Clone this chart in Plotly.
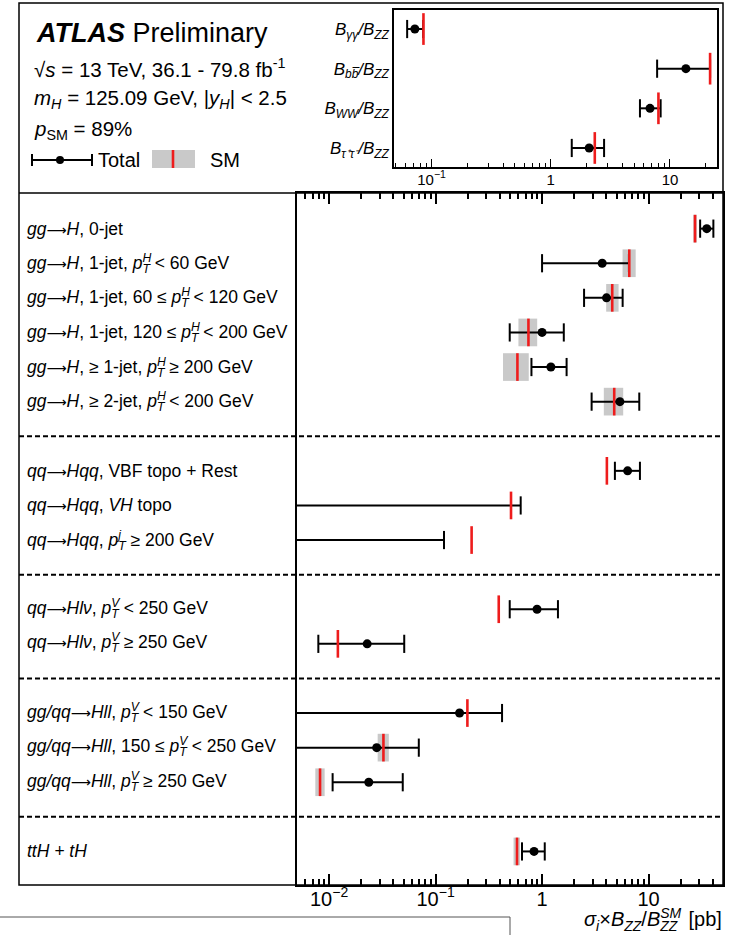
import math
import plotly.graph_objects as go

# ---------------------------------------------------------------- data
ARR = "<span style='font-family:DejaVu Sans;font-size:14px'>⟶</span>"

# advance widths (em) of the italic superscripts, used to stack them over
# the subscript that follows
SUP_W = {"H": 0.722, "V": 0.667, "j": 0.222}


def pt(sup):
    """p_T with the superscript stacked above the subscript T."""
    return (f"<i>p</i><sup><span style='letter-spacing:-{SUP_W[sup]}em'><i>{sup}</i></span></sup>"
            f"<sub><i>T</i></sub>")


# Production-mode cross sections times B(H->ZZ*) [pb]
groups = [
    [
        f"<i>gg</i>{ARR}<i>H</i>, 0-jet",
        f"<i>gg</i>{ARR}<i>H</i>, 1-jet, {pt('H')} < 60 GeV",
        f"<i>gg</i>{ARR}<i>H</i>, 1-jet, 60 ≤ {pt('H')} < 120 GeV",
        f"<i>gg</i>{ARR}<i>H</i>, 1-jet, 120 ≤ {pt('H')} < 200 GeV",
        f"<i>gg</i>{ARR}<i>H</i>, ≥ 1-jet, {pt('H')} ≥ 200 GeV",
        f"<i>gg</i>{ARR}<i>H</i>, ≥ 2-jet, {pt('H')} < 200 GeV",
    ],
    [
        f"<i>qq</i>{ARR}<i>Hqq</i>, VBF topo + Rest",
        f"<i>qq</i>{ARR}<i>Hqq</i>, <i>VH</i> topo",
        f"<i>qq</i>{ARR}<i>Hqq</i>, {pt('j')} ≥ 200 GeV",
    ],
    [
        f"<i>qq</i>{ARR}<i>Hlν</i>, {pt('V')} < 250 GeV",
        f"<i>qq</i>{ARR}<i>Hlν</i>, {pt('V')} ≥ 250 GeV",
    ],
    [
        f"<i>gg/qq</i>{ARR}<i>Hll</i>, {pt('V')} < 150 GeV",
        f"<i>gg/qq</i>{ARR}<i>Hll</i>, 150 ≤ {pt('V')} < 250 GeV",
        f"<i>gg/qq</i>{ARR}<i>Hll</i>, {pt('V')} ≥ 250 GeV",
    ],
    [
        "<i>ttH + tH</i>",
    ],
]

# measured value and total-uncertainty interval (None: outside the axis range)
meas_val = [35.2, 3.67, 4.03, 1.00, 1.21, 5.38,
            6.36, None, None,
            0.897, 0.0228,
            0.168, 0.0280, 0.0236,
            0.841]
meas_lo = [30.5, 1.00, 2.48, 0.497, 0.795, 2.92,
           4.83, None, None,
           0.497, 0.00793,
           None, None, 0.0108,
           0.648]
meas_hi = [40.6, 6.54, 5.71, 1.60, 1.70, 8.18,
           8.30, 0.63, 0.120,
           1.41, 0.0508,
           0.421, 0.0696, 0.0492,
           1.06]

# Standard Model prediction and its uncertainty band
sm_val = [27.3, 6.59, 4.56, 0.745, 0.587, 4.76,
          4.06, 0.511, 0.218,
          0.392, 0.0121,
          0.199, 0.0324, 0.00823,
          0.582]
sm_lo = [26.3, 5.70, 4.00, 0.60, 0.43, 3.80,
         None, None, None,
         None, None,
         None, 0.0286, 0.00743,
         0.54]
sm_hi = [28.4, 7.57, 5.23, 0.90, 0.75, 5.78,
         None, None, None,
         None, None,
         None, 0.0364, 0.00909,
         0.62]

# Branching-ratio ratios (inset)
br_labels = [
    "<i>B</i><sub><i>γγ</i></sub><i>/B</i><sub><i>ZZ</i></sub>",
    "<i>B</i><sub><i>bb̅</i></sub><i>/B</i><sub><i>ZZ</i></sub>",
    "<i>B</i><sub><i>WW</i></sub><i>/B</i><sub><i>ZZ</i></sub>",
    "<i>B</i><sub><i>τ⁺τ⁻</i></sub><i>/B</i><sub><i>ZZ</i></sub>",
]
br_val = [0.0724, 13.6, 6.8, 2.10]
br_lo = [0.0624, 7.8, 5.6, 1.50]
br_hi = [0.085, 21.7, 8.35, 2.80]
br_sm = [0.0855, 21.7, 8.0, 2.34]

main_ticks = [0.01, 0.1, 1, 10]
main_ticktext = ["10<sup>−2</sup>", "10<sup>−1</sup>", "1", "10"]
inset_ticks = [0.1, 1, 10]
inset_ticktext = ["10<sup>−1</sup>", "1", "10"]

# ---------------------------------------------------------------- layout helpers
W, H = 735, 935
FONT = "Liberation Sans, Arial, sans-serif"
RED = "#ee1c1c"
GREY = "#c9c9c9"


def px(x):
    return x / W


def py(y):
    return 1 - y / H


X_MIN, X_MAX = 0.005, 50.0
INSET_MIN, INSET_MAX = 0.0484, 24.8

# row positions: one blank slot between consecutive groups
labels, slots, separators = [], [], []
pos = 0
for gi, grp in enumerate(groups):
    if gi > 0:
        separators.append(pos)
        pos += 1
    for lab in grp:
        labels.append(lab)
        slots.append(pos)
        pos += 1
n_slots = pos


def minor_vals(lo, hi):
    out = []
    for e in range(math.floor(math.log10(lo)), math.ceil(math.log10(hi)) + 1):
        for k in range(2, 10):
            v = k * 10 ** e
            if lo <= v <= hi:
                out.append(v)
    return out


def interval_xy(lo_list, hi_list, ys, floor):
    xs, yy = [], []
    for lo, hi, y in zip(lo_list, hi_list, ys):
        xs += [lo if lo is not None else floor, hi, None]
        yy += [y, y, None]
    return xs, yy


def tick_xy(vals, ys, half):
    xs, yy = [], []
    for v, y in zip(vals, ys):
        xs += [v, v, None]
        yy += [y - half, y + half, None]
    return xs, yy


fig = go.Figure()

# ---------------------------------------------------------------- main panel
ix, iy = interval_xy(meas_lo, meas_hi, slots, X_MIN / 10)
fig.add_trace(go.Scatter(
    x=ix, y=iy, mode="lines+markers", xaxis="x", yaxis="y",
    line=dict(color="black", width=2),
    marker=dict(symbol="line-ns", size=13, color="black",
                line=dict(color="black", width=2)),
    hoverinfo="skip", showlegend=False,
))
rx, ry = tick_xy(sm_val, slots, 0.4)
fig.add_trace(go.Scatter(
    x=rx, y=ry, mode="lines", xaxis="x", yaxis="y",
    line=dict(color=RED, width=2.6), hoverinfo="skip", showlegend=False,
))
pts = [(v, s) for v, s in zip(meas_val, slots) if v is not None]
fig.add_trace(go.Scatter(
    x=[p[0] for p in pts], y=[p[1] for p in pts], mode="markers",
    xaxis="x", yaxis="y",
    marker=dict(symbol="circle", size=9, color="black"),
    showlegend=False,
))

shapes = []
for lo, hi, s in zip(sm_lo, sm_hi, slots):
    if lo is None:
        continue
    shapes.append(dict(type="rect", xref="x", yref="y", x0=lo, x1=hi,
                       y0=s - 0.4, y1=s + 0.4, fillcolor=GREY,
                       line=dict(width=0), layer="below"))

# ---------------------------------------------------------------- inset panel
br_slots = list(range(len(br_labels)))
bx, by = interval_xy(br_lo, br_hi, br_slots, INSET_MIN / 10)
fig.add_trace(go.Scatter(
    x=bx, y=by, mode="lines+markers", xaxis="x2", yaxis="y2",
    line=dict(color="black", width=2),
    marker=dict(symbol="line-ns", size=13, color="black",
                line=dict(color="black", width=2)),
    hoverinfo="skip", showlegend=False,
))
brx, bry = tick_xy(br_sm, br_slots, 0.4)
fig.add_trace(go.Scatter(
    x=brx, y=bry, mode="lines", xaxis="x2", yaxis="y2",
    line=dict(color=RED, width=2.6), hoverinfo="skip", showlegend=False,
))
fig.add_trace(go.Scatter(
    x=br_val, y=br_slots, mode="markers", xaxis="x2", yaxis="y2",
    marker=dict(symbol="circle", size=9, color="black"), showlegend=False,
))

# ---------------------------------------------------------------- frame and separators
shapes.append(dict(type="rect", xref="paper", yref="paper",
                   x0=px(19), x1=px(723), y0=py(885), y1=py(3),
                   line=dict(color="black", width=1.5)))
shapes.append(dict(type="line", xref="paper", yref="paper",
                   x0=px(19), x1=px(723), y0=py(193), y1=py(193),
                   line=dict(color="black", width=1.5)))
for s in separators:
    shapes.append(dict(type="line", xref="paper", yref="y",
                       x0=px(19), x1=px(723), y0=s, y1=s,
                       line=dict(color="black", width=2, dash="5px,3px")))

# legend glyphs
shapes += [
    dict(type="line", xref="paper", yref="paper", x0=px(32), x1=px(92),
         y0=py(160), y1=py(160), line=dict(color="black", width=2)),
    dict(type="line", xref="paper", yref="paper", x0=px(32), x1=px(32),
         y0=py(154), y1=py(166), line=dict(color="black", width=2)),
    dict(type="line", xref="paper", yref="paper", x0=px(92), x1=px(92),
         y0=py(154), y1=py(166), line=dict(color="black", width=2)),
    dict(type="circle", xref="paper", yref="paper", x0=px(56), x1=px(64),
         y0=py(156), y1=py(164), fillcolor="black", line=dict(width=0)),
    dict(type="rect", xref="paper", yref="paper", x0=px(152), x1=px(195),
         y0=py(168), y1=py(150), fillcolor=GREY, line=dict(width=0)),
    dict(type="line", xref="paper", yref="paper", x0=px(173), x1=px(173),
         y0=py(168), y1=py(150), line=dict(color=RED, width=2.6)),
]

# frame of the neighbouring panel at the bottom edge
shapes += [
    dict(type="line", xref="paper", yref="paper", x0=0, x1=px(510),
         y0=py(917), y1=py(917), line=dict(color="#555555", width=1)),
    dict(type="line", xref="paper", yref="paper", x0=px(510), x1=px(510),
         y0=py(917), y1=0, line=dict(color="#555555", width=1)),
]

# ---------------------------------------------------------------- text
ann = []
for lab, s in zip(labels, slots):
    ann.append(dict(text=lab, xref="paper", yref="y", x=px(25), y=s,
                    xanchor="left", yanchor="middle", showarrow=False,
                    font=dict(family=FONT, size=17.5, color="black")))

ann += [
    dict(text="<b><i>ATLAS</i></b> Preliminary", x=px(34), y=py(33),
         font=dict(size=27)),
    dict(text="√<i>s</i> = 13 TeV, 36.1 - 79.8 fb<sup>-1</sup>", x=px(32), y=py(68),
         font=dict(size=20.5)),
    dict(text="<i>m</i><sub><i>H</i></sub> = 125.09 GeV, |<i>y</i><sub><i>H</i></sub>| < 2.5",
         x=px(32), y=py(99), font=dict(size=20.5)),
    dict(text="<i>p</i><sub>SM</sub> = 89%", x=px(32), y=py(130), font=dict(size=20.5)),
    dict(text="Total", x=px(96), y=py(160), font=dict(size=20)),
    dict(text="SM", x=px(208), y=py(160), font=dict(size=20)),
]
for a in ann[len(labels):]:
    a.update(xref="paper", yref="paper", xanchor="left", yanchor="middle",
             showarrow=False)
    a["font"].update(family=FONT, color="black")

# axis title; the SM superscript is stacked over the ZZ subscript
ann.append(dict(
    text=("<i>σ</i><sub><i>i</i></sub>×<i>B</i><sub><i>ZZ</i></sub>/<i>B</i>"
          "<sup><i>S</i><span style='letter-spacing:-21px'><i>M</i></span></sup>"
          "<sub><i>ZZ</i></sub>  [pb]"),
    xref="paper", yref="paper", x=px(724), y=py(919), xanchor="right",
    yanchor="middle", showarrow=False,
    font=dict(family=FONT, size=20, color="black")))

# ---------------------------------------------------------------- axes
axis_common = dict(showgrid=False, zeroline=False, showline=True,
                   linecolor="black", tickcolor="black")

fig.update_layout(
    width=W, height=H,
    margin=dict(l=0, r=0, t=0, b=0),
    paper_bgcolor="white", plot_bgcolor="rgba(0,0,0,0)",
    font=dict(family=FONT, color="black"),
    showlegend=False,
    xaxis=dict(
        **axis_common, type="log", anchor="y",
        domain=[px(297), px(723)],
        range=[math.log10(X_MIN), math.log10(X_MAX)],
        linewidth=1.5, mirror="ticks",
        tickmode="array", tickvals=main_ticks, ticktext=main_ticktext,
        ticks="inside", ticklen=11, tickwidth=1.5,
        ticklabelstandoff=-5,
        tickfont=dict(family=FONT, size=20),
        minor=dict(tickmode="array", tickvals=minor_vals(X_MIN, X_MAX),
                   ticks="inside", ticklen=6, tickwidth=1.5, tickcolor="black"),
    ),
    yaxis=dict(
        **axis_common, anchor="x",
        domain=[py(885), py(193)],
        range=[n_slots - 0.03, -1.03],
        linewidth=1.5, mirror=True,
        showticklabels=False, ticks="",
    ),
    xaxis2=dict(
        **axis_common, type="log", anchor="y2",
        domain=[px(394), px(717)],
        range=[math.log10(INSET_MIN), math.log10(INSET_MAX)],
        linewidth=1.5, mirror=True,
        tickmode="array", tickvals=inset_ticks, ticktext=inset_ticktext,
        ticks="inside", ticklen=8, tickwidth=1.2,
        ticklabelstandoff=-2,
        tickfont=dict(family=FONT, size=15),
        minor=dict(tickmode="array", tickvals=minor_vals(INSET_MIN, INSET_MAX),
                   ticks="inside", ticklen=4, tickwidth=1.2, tickcolor="black"),
    ),
    yaxis2=dict(
        **axis_common, anchor="x2",
        domain=[py(167), py(10)],
        range=[len(br_labels) - 0.52, -0.48],
        linewidth=1.5, mirror=True,
        tickmode="array", tickvals=br_slots, ticktext=br_labels,
        ticks="", tickfont=dict(family=FONT, size=17),
    ),
    shapes=shapes,
    annotations=ann,
)

fig.write_html("out.html")
